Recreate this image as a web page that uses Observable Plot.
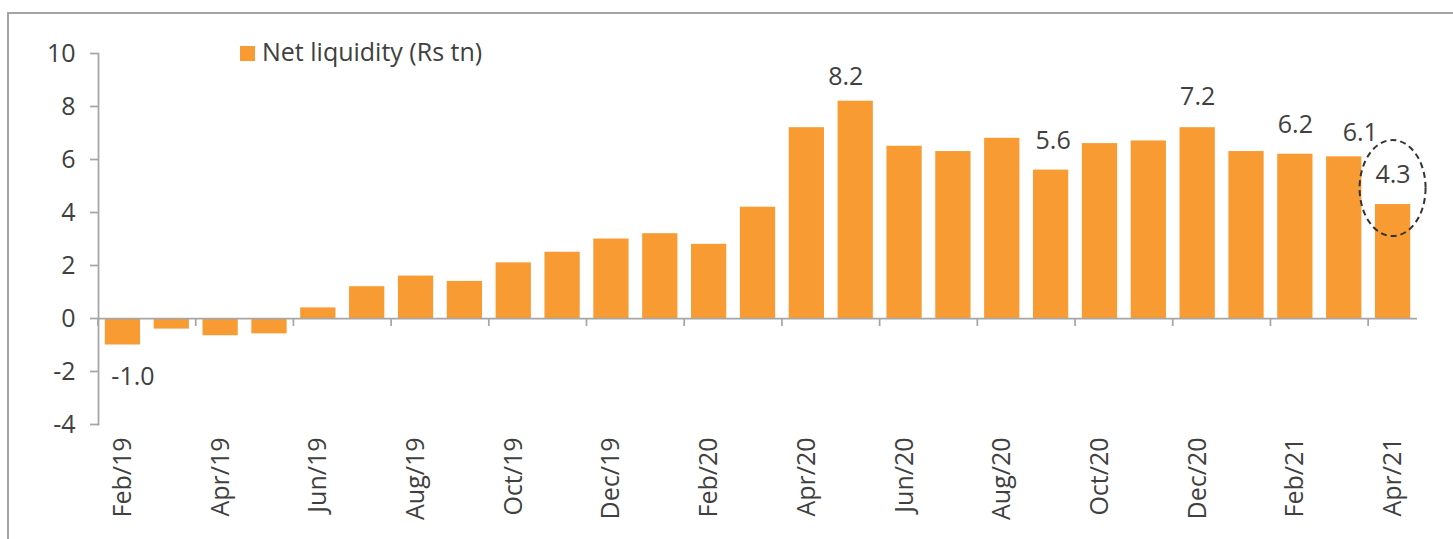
<!DOCTYPE html>
<html>
<head>
<meta charset="utf-8">
<script src="https://cdn.jsdelivr.net/npm/d3@7"></script>
<script src="https://cdn.jsdelivr.net/npm/@observablehq/plot@0.6"></script>
<style>
  html, body { margin: 0; padding: 0; background: #fff; overflow: hidden; }
  #wrap { position: relative; width: 1453px; height: 539px; font-family: "Open Sans", sans-serif; }
  #border { position: absolute; left: 7px; top: 12px; width: 3000px; height: 3000px;
            border-left: 2px solid #a3a3a3; border-top: 2px solid #a3a3a3; }
  #legend { position: absolute; left: 240px; top: 39px; font-size: 25px; line-height: 25px; color: #404040; white-space: nowrap; }
  #legend .sw { display: inline-block; width: 15px; height: 15px; background: #f79b32; margin-right: 7px; vertical-align: 0px; }
  #chart { position: absolute; left: 0; top: 0; }
</style>
</head>
<body>
<div id="wrap">
  <div id="border"></div>
  <div id="chart"></div>
  <div id="legend"><span class="sw"></span>Net liquidity (Rs tn)</div>
</div>
<script>
const months = ["Feb/19","Mar/19","Apr/19","May/19","Jun/19","Jul/19","Aug/19","Sep/19","Oct/19","Nov/19","Dec/19",
  "Jan/20","Feb/20","Mar/20","Apr/20","May/20","Jun/20","Jul/20","Aug/20","Sep/20","Oct/20","Nov/20","Dec/20",
  "Jan/21","Feb/21","Mar/21","Apr/21"];
const values = [-1.0,-0.4,-0.65,-0.58,0.4,1.2,1.6,1.4,2.1,2.5,3.0,
  3.2,2.8,4.2,7.2,8.2,6.5,6.3,6.8,5.6,6.6,6.7,7.2,
  6.3,6.2,6.1,4.3];
const tickMonths = ["Feb/19","Apr/19","Jun/19","Aug/19","Oct/19","Dec/19","Feb/20","Apr/20","Jun/20","Aug/20","Oct/20","Dec/20","Feb/21","Apr/21"];
const yTicks = [-4,-2,0,2,4,6,8,10];
const labeledMonths = ["Feb/19","May/20","Sep/20","Dec/20","Feb/21","Mar/21","Apr/21"];
const highlightMonth = "Apr/21";

const data = months.map((m, i) => ({month: m, value: values[i]}));
const labelData = data.filter(d => labeledMonths.includes(d.month));

// label offsets (style, not data)
const offs = {"Feb/19": [10, 32], "May/20": [-10, -24], "Sep/20": [2, -29], "Dec/20": [0, -31],
              "Feb/21": [0, -29], "Mar/21": [16, -24], "Apr/21": [0, -30]};

const textColor = "#404040";
const axisColor = "#a6a6a6";
const barColor = "#f79b32";
const barInset = 6.8;

function labelMark(m) {
  const [dx, dy] = offs[m];
  return Plot.text(labelData.filter(d => d.month === m), {
    x: "month", y: "value", text: d => d.value.toFixed(1),
    dx, dy, lineAnchor: "middle", fill: textColor, fontSize: 25
  });
}

const decor = (index, scales, vals, dims) => {
  const g = d3.create("svg:g");
  const x = scales.x, y = scales.y;
  const step = (dims.width - dims.marginLeft - dims.marginRight) / months.length;
  // x ticks at band boundaries
  for (const m of tickMonths) {
    const bx = x(m);
    g.append("line").attr("x1", bx).attr("x2", bx)
      .attr("y1", y(0)).attr("y2", y(0) + 8)
      .attr("stroke", axisColor).attr("stroke-width", 1.75);
  }
  // dashed ellipse around highlight
  const hv = data.find(d => d.month === highlightMonth).value;
  const cx = x(highlightMonth) + step / 2;
  const cy = y(hv) - 16;
  g.append("ellipse").attr("cx", cx).attr("cy", cy).attr("rx", 33).attr("ry", 48)
    .attr("fill", "none").attr("stroke", "#333").attr("stroke-width", 2)
    .attr("stroke-dasharray", "6,4");
  return g.node();
};

const chart = Plot.plot({
  width: 1453,
  height: 539,
  marginLeft: 98,
  marginRight: 36,
  marginTop: 53,
  marginBottom: 115,
  style: {fontFamily: "Open Sans, sans-serif", fontSize: "25px", color: textColor, background: "transparent"},
  x: {domain: months, padding: 0, round: false, label: null},
  y: {domain: [-4, 10], label: null},
  marks: [
    Plot.barY(data, {x: "month", y: "value", fill: barColor, insetLeft: barInset, insetRight: barInset}),
    Plot.ruleY([0], {stroke: axisColor, strokeWidth: 1.75}),
    Plot.frame({anchor: "left", stroke: axisColor, strokeWidth: 1.75}),
    Plot.axisY({ticks: yTicks, tickSize: 8, tickPadding: 15, tickFormat: d => String(d),
      stroke: axisColor, strokeWidth: 1.75, fill: textColor, fontSize: 25, label: null}),
    Plot.axisX({ticks: tickMonths, tickSize: 0, tickPadding: 13, tickRotate: -90,
      fill: textColor, fontSize: 25, label: null}),
    ...labeledMonths.map(labelMark),
    decor
  ]
});
document.getElementById("chart").appendChild(chart);
</script>
</body>
</html>
